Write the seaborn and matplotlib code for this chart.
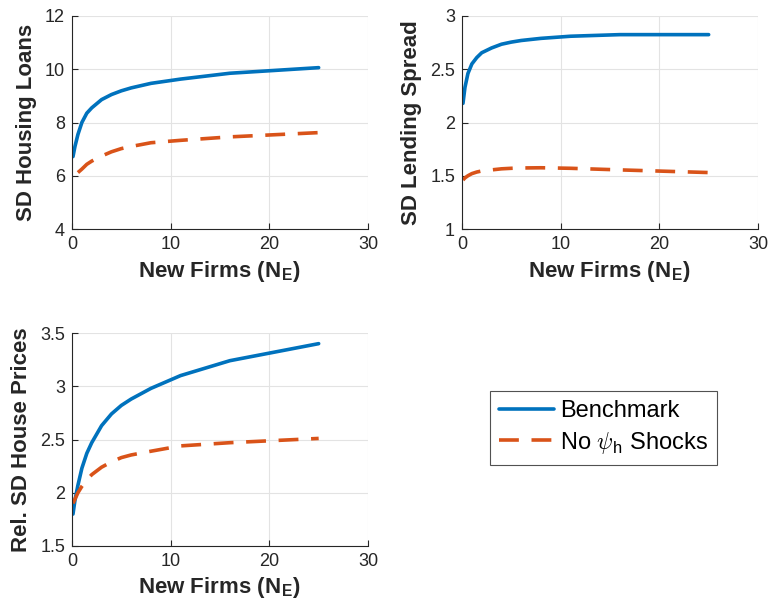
import numpy as np
import pandas as pd
import seaborn as sns
import matplotlib.pyplot as plt
from matplotlib.lines import Line2D

# new firms grid (N_E)
new_firms = [0.1, 0.3, 0.6, 1, 1.5, 2, 3, 4, 5, 6, 8, 11, 16, 25]

loans_bench = [6.72, 7.1, 7.55, 8.0, 8.35, 8.55, 8.86, 9.05, 9.19, 9.3, 9.47, 9.63, 9.85, 10.06]
loans_no_psi = [np.nan, np.nan, 6.12, 6.25, 6.43, 6.55, 6.74, 6.9, 7.02, 7.1, 7.24, 7.33, 7.46, 7.62]

spread_bench = [2.18, 2.33, 2.46, 2.55, 2.61, 2.655, 2.70, 2.735, 2.755, 2.77, 2.79, 2.81, 2.825, 2.825]
spread_no_psi = [1.46, 1.48, 1.5, 1.52, 1.535, 1.545, 1.555, 1.565, 1.57, 1.573, 1.575, 1.57, 1.555, 1.53]

prices_bench = [1.8, 1.93, 2.07, 2.23, 2.37, 2.47, 2.63, 2.74, 2.82, 2.88, 2.98, 3.1, 3.24, 3.40]
prices_no_psi = [1.9, 1.94, 2.0, 2.06, 2.12, 2.17, 2.24, 2.29, 2.33, 2.355, 2.39, 2.44, 2.47, 2.51]

BLUE = "#0072BD"
ORANGE = "#D95319"
INK = "#262626"

sns.set_theme(style="whitegrid")
plt.rcParams["font.family"] = ["Liberation Sans", "DejaVu Sans"]
plt.rcParams["mathtext.fontset"] = "cm"
plt.rcParams["axes.edgecolor"] = INK
plt.rcParams["grid.color"] = "#e3e3e3"
plt.rcParams["grid.linewidth"] = 0.8

fig = plt.figure(figsize=(7.69, 6.10), dpi=100)
w, h = 296 / 769, 213 / 610
ax1 = fig.add_axes([72 / 769, 1 - 229 / 610, w, h])
ax2 = fig.add_axes([462 / 769, 1 - 229 / 610, w, h])
ax3 = fig.add_axes([72 / 769, 1 - 546 / 610, w, h])

panels = [
    (ax1, loans_bench, loans_no_psi, "SD Housing Loans", (4, 12), [4, 6, 8, 10, 12], ["4", "6", "8", "10", "12"]),
    (ax2, spread_bench, spread_no_psi, "SD Lending Spread", (1, 3), [1, 1.5, 2, 2.5, 3], ["1", "1.5", "2", "2.5", "3"]),
    (ax3, prices_bench, prices_no_psi, "Rel. SD House Prices", (1.5, 3.5), [1.5, 2, 2.5, 3, 3.5], ["1.5", "2", "2.5", "3", "3.5"]),
]

lw = 2.6
dash = (5.5, 3.5)
for ax, bench, nopsi, ylab, ylim, yticks, yticklabels in panels:
    df = pd.DataFrame({"NE": new_firms, "bench": bench, "nopsi": nopsi})
    sns.lineplot(data=df, x="NE", y="bench", ax=ax, color=BLUE, linewidth=lw)
    sns.lineplot(data=df.dropna(), x="NE", y="nopsi", ax=ax, color=ORANGE, linewidth=lw)
    ax.lines[-1].set_dashes(dash)
    ax.set_xlim(0, 30)
    ax.set_ylim(*ylim)
    ax.set_xticks([0, 10, 20, 30])
    ax.set_yticks(yticks)
    ax.set_yticklabels(yticklabels)
    ax.tick_params(direction="in", length=4, width=0.8, color=INK, labelsize=13,
                   labelcolor=INK, pad=5, left=True, bottom=True)
    for s in ["top", "right"]:
        ax.spines[s].set_visible(False)
    for s in ["left", "bottom"]:
        ax.spines[s].set_linewidth(0.8)
    ax.set_xlabel(r"New Firms (N$_\mathregular{E}$)", fontsize=16, fontweight="bold",
                  color=INK, labelpad=4)
    ax.set_ylabel(ylab, fontsize=16, fontweight="bold", color=INK, labelpad=6)
    ax.grid(True)

handles = [
    Line2D([], [], color=BLUE, linewidth=lw),
    Line2D([], [], color=ORANGE, linewidth=lw, dashes=dash),
]
leg = fig.legend(handles, ["Benchmark", r"No $\psi_\mathregular{h}$ Shocks"],
                 loc="upper left", bbox_to_anchor=(490 / 769, 1 - 391 / 610),
                 fontsize=17, frameon=True, fancybox=False, handlelength=2.3,
                 handletextpad=0.25, borderpad=0.4, labelspacing=0.3, borderaxespad=0)
leg.get_frame().set_edgecolor(INK)
leg.get_frame().set_linewidth(0.8)
for t in leg.get_texts():
    t.set_color("black")

fig.savefig("out.png", dpi=100)
